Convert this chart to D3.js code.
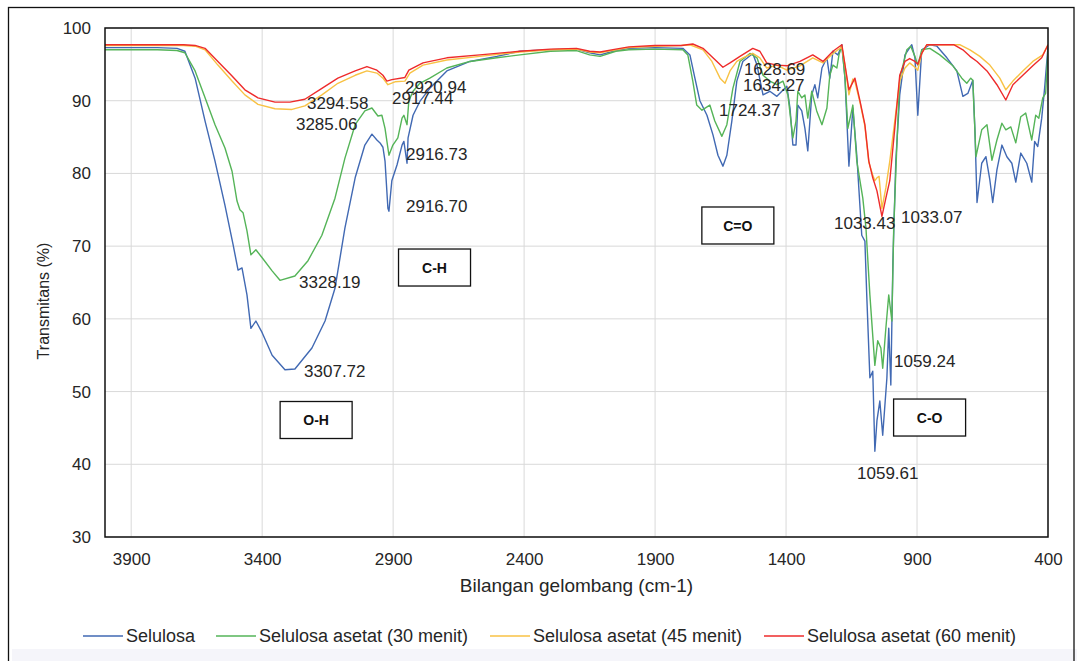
<!DOCTYPE html>
<html>
<head>
<meta charset="utf-8">
<script src="https://cdn.jsdelivr.net/npm/d3@7"></script>
<style>
  html, body { margin: 0; padding: 0; background: #ffffff; }
  svg { display: block; font-family: "Liberation Sans", Arial, sans-serif; }
</style>
</head>
<body>
<svg id="chart" width="1077" height="661"></svg>
<script>
// ---------------- DATA ----------------
const seriesNames = ["Selulosa", "Selulosa asetat (30 menit)", "Selulosa asetat (45 menit)", "Selulosa asetat (60 menit)"];
const xTicks = [3900, 3400, 2900, 2400, 1900, 1400, 900, 400];
const yTicks = [30, 40, 50, 60, 70, 80, 90, 100];

// [wavenumber (cm-1), transmittance (%)]
const selulosa = [[4000,97.3],[3800,97.3],[3725,97.2],[3695,96.8],[3656,93.1],[3618,87.2],[3580,81.7],[3542,75.6],[3511,70.2],[3492,66.7],[3477,67.0],[3458,63.3],[3443,58.7],[3424,59.7],[3400,58.1],[3362,55.0],[3313,53.0],[3275,53.1],[3210,56.0],[3160,59.7],[3122,64.2],[3084,72.5],[3045,79.4],[3008,83.9],[2981,85.4],[2962,84.6],[2950,84.2],[2939,83.6],[2931,81.7],[2920,75.2],[2916,74.8],[2905,79],[2885,81.2],[2866,83.9],[2859,84.4],[2847,81.4],[2843,84.9],[2824,88],[2798,89.9],[2760,91.7],[2695,94.1],[2607,95.4],[2504,96.1],[2416,96.8],[2300,97.0],[2200,97.1],[2150,96.6],[2110,96.3],[2050,96.9],[2000,97.2],[1900,97.3],[1794,97.2],[1767,96.3],[1748,93.1],[1729,90],[1702,88],[1679,85.3],[1660,82.5],[1641,81],[1626,82.5],[1607,87.2],[1588,92.7],[1565,95.4],[1527,96.5],[1511,94.9],[1488,90.8],[1462,91.3],[1435,90.6],[1416,91.3],[1397,92],[1385,89],[1374,83.9],[1362,83.9],[1355,89.4],[1340,88.6],[1328,86.2],[1317,83.1],[1302,90.8],[1290,92.2],[1279,90.4],[1263,94.5],[1244,95.9],[1233,93.1],[1221,96.8],[1202,96.3],[1187,97.7],[1175,93.1],[1160,81],[1145,89],[1130,82.5],[1111,71.5],[1099,70.7],[1092,63.3],[1080,51.9],[1069,52.8],[1061,41.8],[1053,46],[1042,48.7],[1031,44],[1015,51.9],[1008,58.7],[1000,50.9],[992,68],[981,81.7],[966,90.8],[946,96.3],[920,97.7],[908,95.9],[897,88],[882,97],[851,97.7],[824,97.5],[786,95.9],[748,94.1],[725,90.6],[706,91],[687,92.8],[679,86],[671,76],[653,81.4],[637,82.3],[622,79.1],[611,76],[595,80.5],[576,83.9],[557,82.3],[538,81.4],[523,78.8],[504,82.8],[481,81.4],[462,78.8],[451,84.4],[439,83.7],[424,87.6],[413,91.7],[400,97.4]];

const asetat30 = [[4000,97.0],[3800,97.0],[3725,96.9],[3695,96.6],[3656,94.1],[3618,90.4],[3580,86.7],[3542,83.5],[3515,80.3],[3496,76.2],[3485,75],[3473,74.6],[3458,72.1],[3443,68.8],[3424,69.5],[3400,68.4],[3362,66.6],[3332,65.3],[3275,65.9],[3225,68],[3172,71.5],[3122,76.6],[3084,82.1],[3045,86.7],[3008,88.6],[2981,89],[2958,87.9],[2943,88],[2931,86.2],[2916,82.5],[2901,83.9],[2882,84.9],[2866,87.6],[2859,88],[2847,86.7],[2840,90],[2824,91.3],[2798,92.4],[2760,93.1],[2695,94.5],[2607,95.4],[2504,95.9],[2416,96.3],[2300,96.8],[2200,96.9],[2150,96.3],[2110,96.1],[2050,96.8],[2000,97.0],[1900,97.1],[1794,97.0],[1775,96.3],[1756,92.7],[1741,89.4],[1721,88.7],[1691,89.4],[1672,87.2],[1645,85.1],[1626,86.7],[1603,91.7],[1576,95.4],[1538,96.5],[1511,95.9],[1488,93.5],[1462,92.7],[1435,92.2],[1412,92.7],[1393,90.8],[1374,84.9],[1362,87.2],[1355,91.3],[1340,90.4],[1328,90.8],[1317,87.6],[1302,91.3],[1283,88.6],[1263,86.7],[1244,89],[1233,93.5],[1221,94.9],[1206,94.5],[1198,96.3],[1187,97.5],[1175,93.1],[1164,86.2],[1145,89.4],[1130,81.7],[1107,76.6],[1095,72.5],[1080,63.3],[1061,53.6],[1050,57],[1038,56],[1031,53.2],[1019,58.7],[1008,63.3],[996,59.7],[989,72.5],[977,83.9],[966,93.1],[939,97],[924,97.5],[908,96.1],[897,94.9],[882,97],[851,97.2],[813,96.3],[763,94.8],[729,93.1],[710,92.4],[695,93.1],[687,92.8],[675,82.3],[653,86],[633,86.7],[614,81.8],[595,84.6],[576,86.9],[561,86],[542,86.4],[523,84.2],[504,87.8],[485,88.3],[462,84.6],[447,88],[435,87.6],[420,90.4],[409,91],[400,97]];

const asetat45 = [[4000,97.6],[3800,97.6],[3700,97.6],[3656,97.5],[3618,97],[3569,94.9],[3515,92.7],[3466,90.8],[3416,89.5],[3351,88.9],[3286,88.8],[3237,89.3],[3172,90.8],[3111,92.4],[3045,93.5],[3000,94.1],[2962,93.8],[2939,93.1],[2920,92.2],[2893,92.6],[2855,92.7],[2836,93.8],[2786,94.9],[2695,95.6],[2569,96.1],[2416,96.7],[2300,97.0],[2200,97.1],[2150,96.7],[2110,96.6],[2050,97.0],[2000,97.3],[1900,97.5],[1800,97.6],[1767,97.7],[1717,97],[1683,95.4],[1652,93.1],[1633,92.4],[1614,94.1],[1588,95.4],[1565,95.9],[1527,96.5],[1500,95.9],[1474,94.5],[1435,94.9],[1397,94.2],[1347,94.8],[1298,95.9],[1259,95.2],[1221,96.5],[1187,97.4],[1175,94.9],[1160,90.8],[1145,93],[1137,92.6],[1118,89.8],[1099,86.5],[1084,81.5],[1069,79.8],[1061,79],[1053,79.4],[1045,79.6],[1034,75.2],[1019,78],[1004,81.7],[985,87.2],[966,92.7],[946,94.5],[928,95.2],[908,94.6],[897,94.2],[882,96.5],[863,97.7],[737,97.7],[698,97],[660,96.1],[622,94.9],[584,93.1],[561,91.5],[534,92.7],[496,94.1],[458,95.4],[420,96.3],[400,97.7]];

const asetat60 = [[4000,97.7],[3800,97.7],[3700,97.7],[3656,97.6],[3618,97.2],[3569,95.4],[3515,93.4],[3466,91.5],[3416,90.4],[3351,89.8],[3294,89.8],[3237,90.2],[3172,91.7],[3111,93.1],[3045,94.1],[3000,94.7],[2962,94.2],[2939,93.5],[2924,92.7],[2905,92.9],[2855,93.2],[2840,94.2],[2786,95.2],[2695,95.9],[2569,96.3],[2416,96.8],[2300,97.1],[2200,97.2],[2150,96.8],[2110,96.7],[2050,97.1],[2000,97.4],[1900,97.6],[1800,97.6],[1756,97.8],[1717,97.2],[1679,95.9],[1641,94.6],[1614,95.2],[1576,96.1],[1527,97.2],[1500,96.8],[1474,95.2],[1435,94.9],[1397,94.8],[1347,95.4],[1298,96.3],[1259,95.4],[1221,96.8],[1187,97.7],[1175,94.9],[1160,91.5],[1137,93.1],[1118,90],[1099,86.7],[1084,81.7],[1069,79.4],[1053,77.6],[1034,74.1],[1019,76.6],[1004,79],[985,86.2],[966,93.5],[946,95.4],[928,95.8],[908,95.4],[897,95.0],[882,96.5],[863,97.7],[760,97.7],[725,97],[698,96.1],[671,95.4],[633,94.1],[595,92.2],[561,90.1],[534,92.2],[496,93.5],[458,94.8],[424,95.9],[400,97.7]];

// peak labels: [text, wavenumber at text start, transmittance at baseline]
const peakLabels = [["3294.58",3229,88.86],["3285.06",3271,85.97],["2920.94",2855,91.06],["2917.44",2904,89.55],["2916.73",2851,81.85],["2916.70",2851,74.69],["3328.19",3259,64.24],["3307.72",3240,52.0],["1628.69",1561,93.54],["1634.27",1564,91.34],["1724.37",1656,87.9],["1033.43",1217,72.36],["1033.07",961,73.18],["1059.24",988,53.38],["1059.61",1129,37.97]];
// group boxes: [text, centre wavenumber, centre transmittance]
const groupBoxes = [["O-H",3194,46.09],["C-H",2742,67.06],["C=O",1584,72.84],["C-O",852,46.43]];

// ---------------- LAYOUT ----------------
const colors = ["#4169B3", "#55B458", "#F8C244", "#EE2B2B"];
const plot = {left: 105, right: 1048, top: 28, bottom: 537};
const svg = d3.select("#chart");

const x = d3.scaleLinear().domain([4000, 400]).range([plot.left, plot.right]);
const y = d3.scaleLinear().domain([30, 100]).range([plot.bottom, plot.top]);

// outer frame and bottom band
svg.append("rect").attr("x", 12).attr("y", 649).attr("width", 1065).attr("height", 20).attr("fill", "#f5f5fa");
svg.append("rect").attr("x", 8.5).attr("y", 7.5).attr("width", 1065.5).attr("height", 670)
   .attr("fill", "none").attr("stroke", "#111").attr("stroke-width", 1.3);

// grid
const grid = svg.append("g");
grid.selectAll("line.v").data(xTicks).join("line")
  .attr("x1", d => x(d)).attr("x2", d => x(d)).attr("y1", plot.top).attr("y2", plot.bottom)
  .attr("stroke", "#d9d9d9").attr("stroke-width", 1);
grid.selectAll("line.h").data(yTicks).join("line")
  .attr("x1", plot.left).attr("x2", plot.right).attr("y1", d => y(d)).attr("y2", d => y(d))
  .attr("stroke", "#d9d9d9").attr("stroke-width", 1);

// axes (labels only, via d3 axes)
const xAxis = svg.append("g").attr("transform", `translate(0,${plot.bottom})`)
  .call(d3.axisBottom(x).tickValues(xTicks).tickSize(0).tickPadding(16).tickFormat(d3.format("d")));
const yAxis = svg.append("g").attr("transform", `translate(${plot.left},0)`)
  .call(d3.axisLeft(y).tickValues(yTicks).tickSize(0).tickPadding(14).tickFormat(d3.format("d")));
[xAxis, yAxis].forEach(a => {
  a.select(".domain").remove();
  a.selectAll("text").attr("font-size", 17).attr("fill", "#262626")
   .attr("font-family", "Liberation Sans, Arial, sans-serif");
});

// series
const clip = svg.append("clipPath").attr("id", "clip").append("rect")
  .attr("x", plot.left).attr("y", plot.top).attr("width", plot.right - plot.left).attr("height", plot.bottom - plot.top);
const line = d3.line().x(d => x(d[0])).y(d => y(d[1]));
const allSeries = [selulosa, asetat30, asetat45, asetat60];
svg.append("g").attr("clip-path", "url(#clip)")
  .selectAll("path").data(allSeries).join("path")
  .attr("d", d => line(d)).attr("fill", "none")
  .attr("stroke", (d, i) => colors[i]).attr("stroke-width", 1.4).attr("stroke-linejoin", "round");

// plot border
svg.append("rect").attr("x", plot.left).attr("y", plot.top)
  .attr("width", plot.right - plot.left).attr("height", plot.bottom - plot.top)
  .attr("fill", "none").attr("stroke", "#111").attr("stroke-width", 1.5);

// peak labels
svg.append("g").selectAll("text").data(peakLabels).join("text")
  .attr("x", d => x(d[1])).attr("y", d => y(d[2]))
  .attr("font-size", 17).attr("fill", "#262626").text(d => d[0]);

// group boxes
const bw = 72, bh = 37;
const boxes = svg.append("g").selectAll("g").data(groupBoxes).join("g")
  .attr("transform", d => `translate(${x(d[1])},${y(d[2])})`);
boxes.append("rect").attr("x", -bw / 2).attr("y", -bh / 2).attr("width", bw).attr("height", bh)
  .attr("fill", "#fff").attr("stroke", "#111").attr("stroke-width", 1.3);
boxes.append("text").attr("text-anchor", "middle").attr("dy", "0.36em")
  .attr("font-size", 14).attr("font-weight", "bold").attr("fill", "#111").text(d => d[0]);

// axis titles
svg.append("text").attr("x", (plot.left + plot.right) / 2).attr("y", 592)
  .attr("text-anchor", "middle").attr("font-size", 19).attr("fill", "#262626")
  .text("Bilangan gelombang (cm-1)");
svg.append("text").attr("transform", "translate(49,301) rotate(-90)")
  .attr("text-anchor", "middle").attr("font-size", 16).attr("fill", "#262626")
  .text("Transmitans (%)");

// legend
const legendX = [83, 216, 490, 764];
const lg = svg.append("g").selectAll("g").data(seriesNames).join("g")
  .attr("transform", (d, i) => `translate(${legendX[i]},636)`);
lg.append("line").attr("x1", 0).attr("x2", 40).attr("y1", 0).attr("y2", 0)
  .attr("stroke", (d, i) => colors[i]).attr("stroke-width", 1.6);
lg.append("text").attr("x", 43).attr("dy", "0.35em").attr("font-size", 18).attr("fill", "#262626").text(d => d);
</script>
</body>
</html>
